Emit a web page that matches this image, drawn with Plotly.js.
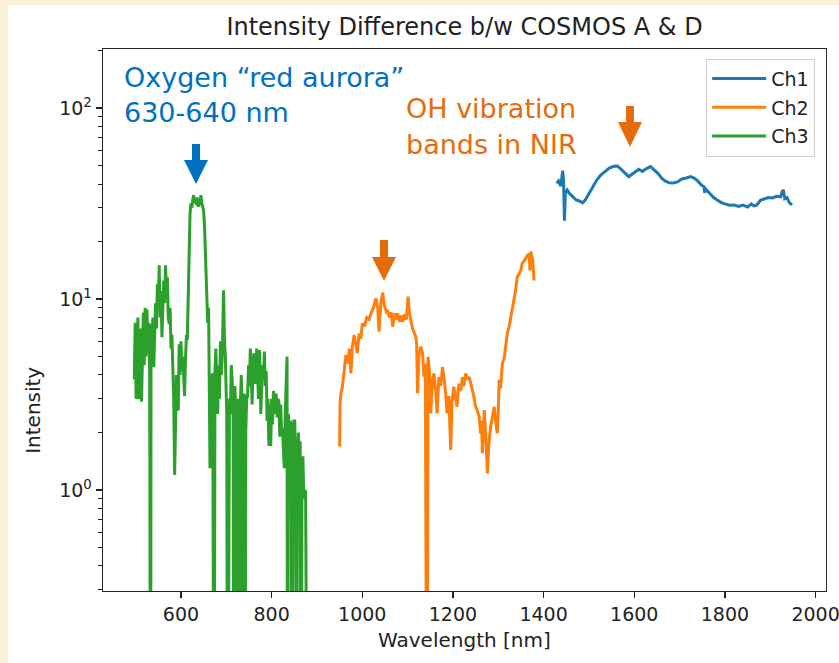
<!DOCTYPE html>
<html>
<head>
<meta charset="utf-8">
<script src="https://cdn.plot.ly/plotly-3.0.1.min.js"></script>
<style>
html,body{margin:0;padding:0;background:#FAEFD7;width:839px;height:663px;overflow:hidden;}
#chart{position:absolute;left:8px;top:5px;width:831px;height:658px;}
</style>
</head>
<body>
<div id="chart"></div>
<script>
// Ch1 (blue)
const ch1_wl  = [1429,1433,1438,1442,1444,1446,1448,1452,1458,1465,1472,1480,1486,1492,1500,1508,1516,1526,1535,1545,1555,1563,1570,1578,1588,1595,1602,1610,1618,1626,1636,1644,1652,1660,1668,1677,1686,1695,1705,1715,1724,1732,1740,1748,1754,1755,1758,1765,1775,1783,1792,1800,1810,1820,1830,1840,1850,1858,1864,1870,1879,1888,1896,1905,1914,1923,1926,1929,1932,1937,1942,1948];
const ch1_int = [40.3,41.5,39.0,47.0,42.0,25.7,36.0,37.2,35.5,34.0,33.0,32.5,31.9,33.0,35.5,38.5,41.5,44.6,46.5,48.5,49.5,49.7,48.0,46.0,43.7,45.0,46.5,47.8,46.5,48.0,49.3,47.5,45.5,43.0,41.5,40.6,40.5,41.0,42.5,43.0,43.7,43.0,41.5,39.5,38.7,36.0,37.5,36.0,34.0,33.0,32.0,31.5,31.0,31.1,30.5,31.0,30.3,31.5,30.7,31.0,33.0,33.5,34.0,33.8,34.5,34.3,36.5,37.2,33.5,34.0,32.0,31.1];

// Ch2 (orange)
const ch2_wl  = [950,951,953,956,960,964,968,972,975,978,982,986,989,993,997,1000,1005,1010,1015,1019,1024,1030,1034,1037,1041,1045,1049,1053,1056,1060,1064,1067,1071,1075,1078,1082,1086,1089,1093,1097,1101,1104,1107,1111,1115,1118,1120,1122,1125,1129,1133,1136,1139,1142,1143,1145,1148,1151,1155,1158,1162,1165,1169,1173,1177,1180,1184,1187,1191,1195,1198,1202,1206,1209,1213,1217,1221,1224,1228,1232,1236,1239,1243,1246,1250,1254,1258,1261,1263,1265,1267,1269,1272,1276,1279,1283,1287,1291,1294,1298,1300,1302,1305,1309,1313,1316,1320,1324,1327,1331,1335,1338,1342,1346,1350,1353,1357,1361,1365,1368,1370,1372,1374,1376,1379];
const ch2_int = [1.69,2.84,3.2,3.47,4.2,5.09,4.6,5.5,4.08,5.6,6.48,5.6,5.2,6.6,6.2,7.46,7.2,8.0,7.8,8.42,8.9,10.08,9.0,6.74,9.5,10.8,9.2,8.6,8.75,8.0,8.5,7.16,8.4,7.8,8.42,7.6,8.2,7.6,8.3,7.8,10.3,8.4,7.77,7.0,6.6,6.35,5.8,3.21,5.0,5.63,5.2,3.92,4.6,0.01,0.01,4.99,4.2,2.52,3.8,4.08,3.3,2.52,3.9,3.5,4.4,3.92,3.2,2.52,3.1,1.62,2.9,3.47,3.0,2.73,3.6,3.3,3.9,3.5,4.08,3.8,3.9,3.62,3.4,3.1,2.73,2.6,2.4,1.98,2.3,1.56,2.1,2.62,2.0,1.22,1.7,2.14,2.4,2.73,2.3,1.98,2.6,3.77,3.4,4.6,4.9,5.5,6.6,7.2,7.9,8.75,9.8,11.0,13.1,13.5,14.2,15.4,15.8,16.5,17.0,17.2,14.1,17.7,17.0,16.0,12.5,10.3];

// Ch3 (green)
const ch3_wl  = [497,499,501,503,505,507,509,511,513,515,517,519,521,523,525,527,529,531,532,533,534,536,538,540,542,544,546,548,550,552,554,556,558,560,562,564,566,568,570,572,574,576,578,580,582,584,586,588,590,592,594,596,598,600,602,604,606,608,610,612,614,616,618,620,622,624,626,628,630,632,634,636,638,640,642,644,646,648,650,652,654,655,657,659,661,662,663,664,666,668,670,671,673,675,677,679,681,683,685,687,689,691,693,694,696,698,699,701,703,705,707,709,711,713,715,717,719,721,723,725,727,729,731,733,735,737,739,741,743,745,747,749,751,753,755,757,759,761,763,765,767,769,771,773,775,776,778,780,782,784,786,788,790,792,794,796,798,800,802,804,806,808,810,812,814,816,818,820,822,824,826,828,830,832,834,835,837,839,841,843,845,847,849,851,853,855,857,859,861,863,865,867,869,871,873,875,877,879];
const ch3_int = [3.8,7.5,3.0,6.2,8.0,3.0,5.5,7.0,2.9,6.0,8.5,4.5,9.0,5.0,8.8,5.2,7.5,4.0,0.01,0.01,7.4,5.5,8.0,4.4,6.5,9.5,7.0,12.0,9.0,15.0,8.0,11.0,6.3,10.0,12.5,9.5,15.0,11.0,13.0,8.0,7.4,9.0,5.5,6.5,4.4,3.0,1.2,2.5,4.0,3.2,2.6,5.8,4.0,6.0,4.2,5.0,3.5,3.1,4.8,6.5,6.1,12.0,21.0,28.0,31.7,30.0,33.0,35.0,32.0,33.5,31.0,34.0,30.4,33.0,31.0,35.0,32.0,30.0,29.0,24.0,18.0,16.7,12.0,7.5,9.0,3.8,5.5,1.3,4.0,2.2,4.1,0.01,0.01,4.3,5.5,3.5,2.5,4.5,3.0,6.0,4.0,5.0,8.0,11.1,6.0,5.0,3.8,2.5,0.01,0.01,3.0,2.5,4.5,3.8,2.5,0.01,3.5,2.5,0.01,3.0,1.5,0.01,2.8,4.0,2.5,0.01,3.2,0.01,2.0,3.1,3.1,4.5,3.5,5.5,4.0,2.8,4.5,5.2,4.0,3.6,5.5,4.0,3.0,5.4,4.0,2.5,3.5,4.5,3.8,5.3,3.5,4.2,2.3,3.0,1.7,2.8,1.7,3.0,2.2,3.3,3.1,2.5,3.2,2.4,3.0,2.9,1.9,2.8,2.0,2.1,1.6,1.3,2.5,3.5,5.0,0.01,2.5,1.8,2.3,2.2,0.01,1.5,2.3,2.3,1.2,0.01,1.5,2.0,1.3,1.8,0.01,1.1,1.5,0.9,1.0,0.98,0.5,0.01];

const xTicks = [600,800,1000,1200,1400,1600,1800,2000];
const yTicks = [1,10,100];
const yTickText = ['10<sup>0</sup>','10<sup>1</sup>','10<sup>2</sup>'];
const yMinor = [0.3,0.4,0.5,0.6,0.7,0.8,0.9,2,3,4,5,6,7,8,9,20,30,40,50,60,70,80,90,200];

const FONT = 'DejaVu Sans, sans-serif';
const BLUE_TXT = '#0070C0';
const ORANGE_TXT = '#E46C0A';

const traces = [
  {x: ch1_wl, y: ch1_int, name: 'Ch1', mode: 'lines', line: {color: '#1f77b4', width: 3}, legendgroup: 'a'},
  {x: ch2_wl, y: ch2_int, name: 'Ch2', mode: 'lines', line: {color: '#ff7f0e', width: 3}, legendgroup: 'b'},
  {x: ch3_wl, y: ch3_int, name: 'Ch3', mode: 'lines', line: {color: '#2ca02c', width: 3}, legendgroup: 'c'}
];

function arrow(x0, x1, ys0, ys1, hx0, hx1, hy, tx, ty, color) {
  return [
    {type: 'rect', xref: 'paper', yref: 'paper', x0: x0, x1: x1, y0: ys1, y1: ys0, fillcolor: color, line: {width: 0}},
    {type: 'path', xref: 'paper', yref: 'paper', path: `M ${hx0} ${hy} L ${hx1} ${hy} L ${tx} ${ty} Z`, fillcolor: color, line: {width: 0}}
  ];
}

const shapes = [].concat(
  arrow(0.1231, 0.1342, 0.8247, 0.7934, 0.1120, 0.1452, 0.7952, 0.1286, 0.7509, BLUE_TXT),
  arrow(0.3831, 0.3942, 0.6476, 0.6144, 0.3721, 0.4053, 0.6162, 0.3887, 0.5720, ORANGE_TXT),
  arrow(0.7234, 0.7344, 0.8948, 0.8635, 0.7123, 0.7455, 0.8653, 0.7289, 0.8192, ORANGE_TXT)
);

const annFont = 'DejaVu Sans, sans-serif';
const annotations = [
  {text: 'Oxygen “red aurora”', xref: 'paper', yref: 'paper', x: 0.026, y: 0.948, xanchor: 'left', yanchor: 'middle', showarrow: false, font: {family: annFont, size: 27, color: BLUE_TXT}},
  {text: '630-640 nm', xref: 'paper', yref: 'paper', x: 0.026, y: 0.882, xanchor: 'left', yanchor: 'middle', showarrow: false, font: {family: annFont, size: 27, color: BLUE_TXT}},
  {text: 'OH vibration', xref: 'paper', yref: 'paper', x: 0.417, y: 0.891, xanchor: 'left', yanchor: 'middle', showarrow: false, font: {family: annFont, size: 27, color: ORANGE_TXT}},
  {text: 'bands in NIR', xref: 'paper', yref: 'paper', x: 0.417, y: 0.823, xanchor: 'left', yanchor: 'middle', showarrow: false, font: {family: annFont, size: 27, color: ORANGE_TXT}},
  {text: 'Intensity', xref: 'paper', yref: 'paper', x: -0.097, y: 0.334, xanchor: 'center', yanchor: 'middle', textangle: -90, showarrow: false, font: {family: FONT, size: 20, color: '#222'}},
  {text: 'Wavelength [nm]', xref: 'paper', yref: 'paper', x: 0.5, y: -0.090, xanchor: 'center', yanchor: 'middle', showarrow: false, font: {family: FONT, size: 20, color: '#222'}}
];

const layout = {
  width: 831, height: 658,
  margin: {l: 95, r: 13, t: 44, b: 72, pad: 0},
  paper_bgcolor: '#ffffff', plot_bgcolor: '#ffffff',
  font: {family: FONT, size: 19, color: '#222'},
  title: {text: 'Intensity Difference b/w COSMOS A & D', x: 0.5, xref: 'paper', xanchor: 'center', y: 1, yref: 'container', yanchor: 'top', pad: {t: 13}, font: {family: FONT, size: 24, color: '#222'}},
  showlegend: true,
  legend: {x: 0.985, xanchor: 'right', y: 0.982, yanchor: 'top', bgcolor: 'rgba(255,255,255,0.8)', bordercolor: '#d0d0d0', borderwidth: 1, itemwidth: 54, font: {family: FONT, size: 19, color: '#222'}, tracegroupgap: 1},
  xaxis: {type: 'linear', range: [428, 2023], tickvals: xTicks, ticks: 'outside', ticklen: 6, tickwidth: 1.2, tickcolor: '#222', ticklabeloverflow: 'allow', showgrid: false, zeroline: false, showline: true, linecolor: '#222', linewidth: 1.4, mirror: true, tickfont: {family: FONT, size: 19, color: '#222'}},
  yaxis: {type: 'log', range: [-0.529, 2.309], tickvals: yTicks, ticktext: yTickText, ticks: 'outside', ticklen: 6, tickwidth: 1.2, tickcolor: '#222', showgrid: false, zeroline: false, showline: true, linecolor: '#222', linewidth: 1.4, mirror: true, tickfont: {family: FONT, size: 19, color: '#222'},
    minor: {tickvals: yMinor, ticks: 'outside', ticklen: 3.5, tickwidth: 1, tickcolor: '#222', showgrid: false}},
  shapes: shapes,
  annotations: annotations
};

Plotly.newPlot('chart', traces, layout, {displayModeBar: false, staticPlot: true});
</script>
</body>
</html>
